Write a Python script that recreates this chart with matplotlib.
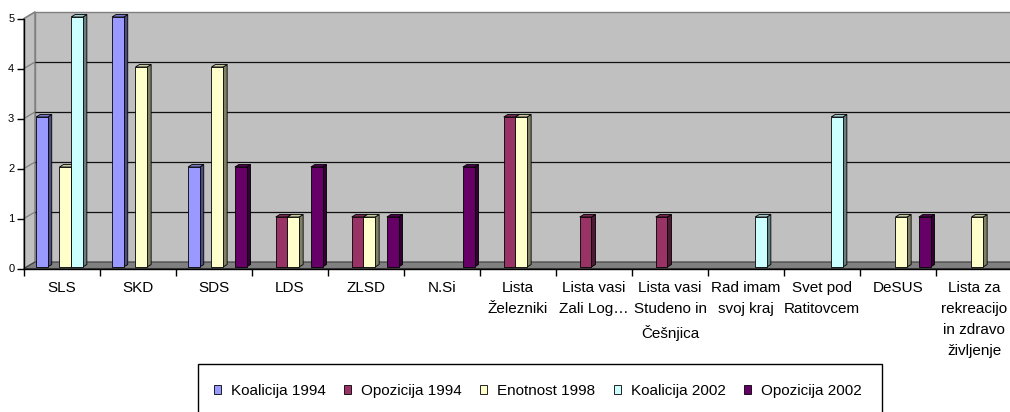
import numpy as np
import matplotlib
matplotlib.use("Agg")
import matplotlib.pyplot as plt
from matplotlib.patches import Polygon, Rectangle
from matplotlib.colors import to_rgb

plt.rcParams['font.family'] = ['Liberation Sans', 'DejaVu Sans']

categories = ["SLS", "SKD", "SDS", "LDS", "ZLSD", "N.Si", "Lista\nŽelezniki",
              "Lista vasi\nZali Log…", "Lista vasi\nStudeno in\nČešnjica",
              "Rad imam\nsvoj kraj", "Svet pod\nRatitovcem", "DeSUS",
              "Lista za\nrekreacijo\nin zdravo\nživljenje"]
series = ["Koalicija 1994", "Opozicija 1994", "Enotnost 1998", "Koalicija 2002", "Opozicija 2002"]
koalicija_1994 = [3, 5, 2, 0, 0, 0, 0, 0, 0, 0, 0, 0, 0]
opozicija_1994 = [0, 0, 0, 1, 1, 0, 3, 1, 1, 0, 0, 0, 0]
enotnost_1998 = [2, 4, 4, 1, 1, 0, 3, 0, 0, 0, 0, 1, 1]
koalicija_2002 = [5, 0, 0, 0, 0, 0, 0, 0, 0, 1, 3, 0, 0]
opozicija_2002 = [0, 0, 2, 2, 1, 2, 0, 0, 0, 0, 0, 1, 0]
values = [koalicija_1994, opozicija_1994, enotnost_1998, koalicija_2002, opozicija_2002]
colors = ["#9999FF", "#993366", "#FFFFCC", "#CCFFFF", "#660066"]

W, H = 1010, 412
fig = plt.figure(figsize=(W / 100, H / 100), dpi=100)
ax = fig.add_axes([24 / W, (H - 268.5) / H, 988 / W, 250 / H])
n = len(categories)
ax.set_xlim(-0.5, n - 0.5); ax.set_ylim(0, 5)
ax.set_facecolor("none")
pxx, pxy = 76.0, 50.0           # pixels per data unit
wdx, wdy = 11 / pxx, 6.5 / pxy   # wall depth offset
bdx, bdy = 4 / pxx, 2.5 / pxy    # bar depth offset

def shade(c, f):
    r, g, b = to_rgb(c)
    return (r * f, g * f, b * f)

x0, x1 = -0.5, n - 0.5
# walls and floor
ax.add_patch(Polygon([(x0, 0), (x0, 5), (x0 + wdx, 5 + wdy), (x0 + wdx, wdy)],
                     fc="#C0C0C0", ec="#808080", lw=1, clip_on=False, zorder=0))
ax.add_patch(Rectangle((x0 + wdx, wdy), x1 - x0 + 1, 5, fc="#C0C0C0", ec="#808080",
                       lw=1, clip_on=False, zorder=0))
ax.add_patch(Polygon([(x0, 0), (x1 + 1, 0), (x1 + 1 + wdx, wdy), (x0 + wdx, wdy)],
                     fc="#808080", ec="#404040", lw=0.8, clip_on=False, zorder=1))
for g in range(1, 5):
    ax.plot([x0 + wdx, x1 + 1 + wdx], [g + wdy, g + wdy], color="#101010", lw=0.9,
            clip_on=False, zorder=0.5)
for g in range(0, 6):
    ax.plot([x0, x0 + wdx], [g, g + wdy], color="#808080", lw=0.9, clip_on=False, zorder=0.5)

# bars
bw = 11.7 / pxx
shift, base = 3.3 / pxx, 1.5 / pxy
xs = np.arange(n)
for j, (vals, c) in enumerate(zip(values, colors)):
    for i, v in enumerate(vals):
        if v == 0:
            continue
        left = xs[i] + (j - 2.5) * bw + shift
        top = v + base
        ax.add_patch(Rectangle((left, base), bw, v, fc=c, ec="black", lw=0.6, zorder=3,
                               clip_on=False))
        ax.add_patch(Polygon([(left + bw, base), (left + bw, top), (left + bw + bdx, top + bdy),
                              (left + bw + bdx, base + bdy)], fc=shade(c, 0.5), ec="black",
                             lw=0.6, zorder=2.9, clip_on=False))
        ax.add_patch(Polygon([(left, top), (left + bdx, top + bdy), (left + bw + bdx, top + bdy),
                              (left + bw, top)], fc=shade(c, 0.8), ec="black", lw=0.6,
                             zorder=2.9, clip_on=False))

for s in ["top", "right"]:
    ax.spines[s].set_visible(False)
ax.spines["bottom"].set_bounds(x0, x1 + 1)
ax.spines["bottom"].set_clip_on(False)
for s in ["left", "bottom"]:
    ax.spines[s].set_color("black"); ax.spines[s].set_linewidth(1); ax.spines[s].set_zorder(4)
ax.set_yticks(range(6))
ax.tick_params(axis="y", length=5, width=1, pad=2, labelsize=8)
ax.set_xticks(xs)
ax.set_xticklabels(categories, fontsize=11)
ax.set_xticks(np.arange(-0.5, n, 1.0), minor=True)
ax.tick_params(axis="x", which="major", length=0, pad=9)
ax.tick_params(axis="x", which="minor", length=5, width=1)
for t in ax.get_xticklabels():
    t.set_linespacing(1.65)

# legend
handles = [Rectangle((0, 0), 1, 1, fc=c, ec="black", lw=0.6) for c in colors]
fig.legend(handles, series, loc="center", ncol=5, frameon=False, fontsize=11,
           bbox_to_anchor=(538 / W, (H - 391) / H), handlelength=0.46, handleheight=0.46,
           handletextpad=0.65, columnspacing=1.2)
fig.add_artist(Rectangle((198 / W, -10 / H), 684 / W, (H - 364 + 10) / H, fill=False,
                         ec="black", lw=1, transform=fig.transFigure))

fig.savefig("out.png", dpi=100)
